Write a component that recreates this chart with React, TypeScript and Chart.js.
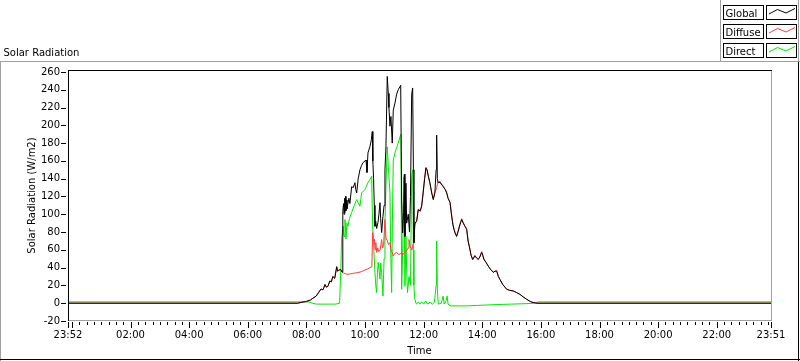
import React, { useEffect, useRef } from 'react';
import { Chart, registerables } from 'chart.js';

Chart.register(...registerables);

// ---------- data ----------
const chartTitle = 'Solar Radiation';
const xAxisTitle = 'Time';
const yAxisTitle = 'Solar Radiation (W/m2)';

// time axis in minutes from midnight (-8 = 23:52 of the previous day)
const xMin = -8;
const xMax = 1431;
const xTickValues = [-8, 120, 240, 360, 480, 600, 720, 840, 960, 1080, 1200, 1320, 1431];
const yTickValues = [-20, 0, 20, 40, 60, 80, 100, 120, 140, 160, 180, 200, 220, 240, 260];

const seriesNames = ['Global', 'Diffuse', 'Direct'];
const seriesColors = ['#000000', '#ff3c3c', '#00e800'];

const globalTimes = [-8, 462, 470, 480, 488, 493, 500, 505, 510, 514, 518, 521, 524, 528, 531, 534, 538, 542, 544, 546, 550, 553, 554.5, 556, 557, 558, 559, 560, 561, 562, 563, 565, 567, 569, 572.6, 576, 579.4, 581, 582.9, 586, 589.6, 593, 595.8, 600, 602, 604, 606, 610, 611.5, 613, 614.8, 616, 617.5, 619, 620.3, 622, 623.8, 626.5, 628.5, 630.6, 632, 634, 636.7, 639, 640.8, 642.8, 645.5, 647.6, 649, 651, 653, 655.7, 657.8, 661.3, 664.7, 668, 671.5, 673, 675, 677, 679, 680.5, 681.7, 683.8, 685.2, 688.5, 691, 693, 695.5, 697.5, 699, 700, 702, 705.7, 709, 713, 716, 719, 722, 724.7, 727, 729.4, 733, 736.4, 739.7, 743, 745.5, 746.6, 748, 749.5, 753.4, 756, 760, 764, 767, 770, 774, 777.3, 780, 782, 785, 787.5, 790.8, 794, 797.8, 801, 804, 808, 811, 814.8, 817, 820.3, 825, 828, 831.8, 835, 838.7, 841, 843.4, 847.5, 852.2, 857, 862.5, 866, 869.4, 873, 876, 882, 890, 896, 903.4, 910, 917, 924, 931, 938, 944, 952, 1431];
const globalValues = [0, 0, 1, 2, 3.5, 5.5, 8, 12, 16, 15, 21, 18, 19, 25, 24, 30, 28, 41, 36, 37, 38, 35, 103, 112, 100, 118, 102, 120, 104, 116, 106, 112, 118, 112, 131, 130, 135.5, 128, 124, 140, 150, 155, 158, 160, 161, 147, 169, 176, 180, 184, 193, 160, 140, 110, 86.5, 92, 84, 90.7, 100, 113, 95, 79.5, 97.8, 110, 150, 176, 255, 236, 220, 199, 210, 180, 217, 225, 235, 240, 243.5, 245, 116, 79, 102, 145, 75, 135, 90, 100, 80, 120, 235, 242, 150, 68, 90, 92, 105, 104, 109, 124, 140, 152, 150, 143, 135, 124, 116.5, 124, 150, 189, 140, 135.5, 136, 134, 131, 128, 124, 118, 113, 98, 88, 83, 78, 75, 81, 88, 94, 90, 87, 83, 70, 60, 54, 49, 53, 51, 49, 52, 57, 54, 49, 46, 41.7, 38, 34.6, 36, 36, 30, 26.8, 21, 15.6, 14.5, 13.7, 12, 10, 7, 4.4, 2, 0.7, 0, 0];

const diffuseTimes = [-8, 462, 470, 480, 488, 493, 500, 505, 510, 514, 518, 521, 524, 528, 531, 534, 538, 542, 544, 546, 550, 553, 556, 560, 565, 570, 575, 580, 585, 590, 595, 600, 605, 610, 614, 615.6, 617, 619, 620.5, 622, 624, 626, 628, 631, 634, 636, 638, 640.8, 643, 645, 648, 651, 653, 655, 657.8, 661, 664.7, 668, 671.5, 675, 677, 679, 681, 684, 686, 688, 690, 692, 694, 696, 698, 700, 702, 705.7, 709, 713, 716, 719, 722, 724.7, 727, 729.4, 733, 736.4, 739.7, 743, 745.5, 746.6, 748, 749.5, 753.4, 756, 760, 764, 767, 770, 774, 777.3, 780, 782, 785, 787.5, 790.8, 794, 797.8, 801, 804, 808, 811, 814.8, 817, 820.3, 825, 828, 831.8, 835, 838.7, 841, 843.4, 847.5, 852.2, 857, 862.5, 866, 869.4, 873, 876, 882, 890, 896, 903.4, 910, 917, 924, 931, 938, 944, 952, 1431];
const diffuseValues = [0, 0, 1, 2, 3.5, 5.5, 8, 12, 16, 15, 21, 18, 19, 25, 24, 30, 28, 41, 36, 37, 38, 35, 34, 33, 32.5, 33, 33.5, 34, 34.5, 35, 36, 37.4, 38.5, 40, 41, 79.5, 70, 72, 60, 68, 57, 62, 58, 60, 71.6, 62, 65, 94, 72, 71.6, 66, 68, 60, 58, 53, 56, 57, 55, 55, 57, 54, 56, 57, 58, 60, 62, 71.6, 64, 62, 60, 66, 68, 88, 93, 106, 103, 110, 125, 141, 153, 150, 144, 134, 125, 117, 125, 128, 130, 133, 136, 137, 134, 132, 128, 125, 118, 114, 99, 88, 84, 78, 76, 82, 88, 95, 91, 87, 84, 70, 61, 54, 50, 54, 51, 50, 52, 58, 54, 50, 46, 42, 38, 35, 36, 37, 30, 27, 21, 16, 14.5, 14, 12, 10, 7, 4.4, 2, 0.7, 0, 0];

const directTimes = [-8, 484, 492, 500, 540, 548, 550.5, 552, 555, 557, 559, 561, 563, 565, 568, 572.6, 578, 582.9, 586, 589.6, 593, 600, 606, 610, 613.6, 615.6, 618, 620.3, 622, 623.8, 625.5, 627, 630.6, 632, 634, 636.7, 639, 640.8, 642.8, 645.5, 647.6, 651, 652.5, 654.5, 656, 657.8, 661.3, 664.7, 668, 671.5, 673.5, 675, 677, 679.5, 681.7, 683.8, 685.5, 687, 690, 693, 695.5, 697.5, 699, 700, 702, 705, 709, 712, 716, 720, 724, 728, 733, 738, 742, 745.5, 746.6, 748, 750, 756, 760, 762, 766, 768, 770, 774, 790, 810, 830, 849, 870, 900, 930, 944, 955, 1431];
const directValues = [1.5, 1.5, 0, -1, -1, 0, 40, 72, 86.5, 75, 94, 72, 90, 86.5, 95, 102, 110, 116.5, 113, 109, 124, 128, 135.5, 139, 142.6, 86.5, 60, 34.6, 20, 12, 35, 46, 27, 45, 34.6, 8, 50, 90, 131, 176, 154, 124, 60, 12, 90, 161, 169, 175, 180, 187, 190, 15.6, 57, 142, 19, 75, 30, 12, 30, 20, 140, 150, 60, 20, 4.4, -1, 1, -1, 1.5, -1, 2.5, -1, 1, -1, 1, 20, 70, 15.6, -1, 0, 8, -1, 3, 8, -1, -3, -3, -3, -2.5, -2, -1.5, -1, -0.5, 0, 1.5, 1.5];

// ---------- helpers ----------
const FONT_FAMILY = '"DejaVu Sans", "Liberation Sans", sans-serif';
const FONT_SIZE = 10;

function toPoints(times: number[], values: number[]) {
  return times.map((t, i) => ({ x: t, y: values[i] }));
}

function fmtTime(v: number) {
  const m = ((Math.round(v) % 1440) + 1440) % 1440;
  const hh = Math.floor(m / 60);
  const mm = m % 60;
  return String(hh).padStart(2, '0') + ':' + String(mm).padStart(2, '0');
}

const labviewPlugin = {
  id: 'labviewDecor',
  beforeDraw(chart: any) {
    const ctx = chart.ctx as CanvasRenderingContext2D;
    const W = chart.width;
    const H = chart.height;
    ctx.save();
    ctx.fillStyle = '#ffffff';
    ctx.fillRect(0, 0, W, H);
    ctx.lineWidth = 1;
    // outer panel
    ctx.strokeStyle = '#a0a0a0';
    ctx.beginPath();
    ctx.moveTo(0, 61.5);
    ctx.lineTo(W, 61.5);
    ctx.moveTo(0.5, 61);
    ctx.lineTo(0.5, H);
    ctx.stroke();
    ctx.strokeStyle = '#000000';
    ctx.beginPath();
    ctx.moveTo(0, H - 1.5);
    ctx.lineTo(W, H - 1.5);
    ctx.moveTo(W - 1.5, 62);
    ctx.lineTo(W - 1.5, H);
    ctx.stroke();
    // legend panel
    ctx.strokeStyle = '#a0a0a0';
    ctx.beginPath();
    ctx.moveTo(720.5, 0);
    ctx.lineTo(720.5, 61);
    ctx.moveTo(798.5, 0);
    ctx.lineTo(798.5, 61);
    ctx.stroke();
    ctx.restore();
  },
  afterDraw(chart: any) {
    const ctx = chart.ctx as CanvasRenderingContext2D;
    const { left, right, top, bottom } = chart.chartArea;
    const xs = chart.scales.x;
    const ys = chart.scales.y;
    ctx.save();
    ctx.lineWidth = 1;
    // plot frame
    ctx.strokeStyle = '#a0a0a0';
    ctx.beginPath();
    ctx.moveTo(left, bottom - 0.5);
    ctx.lineTo(right + 1, bottom - 0.5);
    ctx.moveTo(Math.round(right) + 0.5, top);
    ctx.lineTo(Math.round(right) + 0.5, bottom);
    ctx.stroke();
    ctx.strokeStyle = '#000000';
    ctx.beginPath();
    ctx.moveTo(left, top + 0.5);
    ctx.lineTo(right + 1, top + 0.5);
    ctx.moveTo(left + 0.5, top);
    ctx.lineTo(left + 0.5, bottom);
    ctx.stroke();
    // y ticks
    ctx.beginPath();
    for (const v of yTickValues) {
      const y = Math.round(ys.getPixelForValue(v)) + 0.5;
      ctx.moveTo(61, y);
      ctx.lineTo(66, y);
    }
    ctx.stroke();
    // x ticks (major every 2h, minor every 15 min)
    ctx.beginPath();
    for (let t = 0; t <= xMax; t += 15) {
      const x = Math.round(xs.getPixelForValue(t)) + 0.5;
      const major = t % 120 === 0;
      ctx.moveTo(x, bottom + 1);
      ctx.lineTo(x, bottom + (major ? 7 : 4));
    }
    for (const t of [xMin, xMax]) {
      const x = Math.round(xs.getPixelForValue(t)) + 0.5;
      ctx.moveTo(x, bottom + 1);
      ctx.lineTo(x, bottom + 7);
    }
    ctx.stroke();
    // chart title
    ctx.fillStyle = '#000000';
    ctx.font = `${FONT_SIZE}px ${FONT_FAMILY}`;
    ctx.textBaseline = 'alphabetic';
    ctx.textAlign = 'left';
    ctx.fillText(chartTitle, 3.5, 55.5);
    // legend
    for (let i = 0; i < seriesNames.length; i++) {
      const y0 = 5 + i * 19.2;
      const yb = Math.round(y0) + 0.5;
      ctx.strokeStyle = '#000000';
      ctx.fillStyle = '#ffffff';
      ctx.fillRect(723.5, yb, 40, 14);
      ctx.strokeRect(723.5, yb, 40, 14);
      ctx.fillRect(766.5, yb, 30, 14);
      ctx.strokeRect(766.5, yb, 30, 14);
      ctx.fillStyle = '#000000';
      ctx.fillText(seriesNames[i], 725.5, yb + 11);
      ctx.strokeStyle = seriesColors[i];
      ctx.beginPath();
      ctx.moveTo(769, yb + 8.5);
      ctx.lineTo(777.5, yb + 4);
      ctx.lineTo(786, yb + 7.5);
      ctx.lineTo(795, yb + 3);
      ctx.stroke();
    }
    ctx.restore();
  },
};

export default function App() {
  const canvasRef = useRef<HTMLCanvasElement | null>(null);

  useEffect(() => {
    const prevMargin = document.body.style.margin;
    document.body.style.margin = '0';
    const canvas = canvasRef.current;
    if (!canvas) return;
    const font = { family: FONT_FAMILY, size: FONT_SIZE };
    const chart = new Chart(canvas, {
      type: 'line',
      data: {
        datasets: [
          { label: seriesNames[0], data: toPoints(globalTimes, globalValues), borderColor: seriesColors[0] },
          { label: seriesNames[1], data: toPoints(diffuseTimes, diffuseValues), borderColor: seriesColors[1] },
          { label: seriesNames[2], data: toPoints(directTimes, directValues), borderColor: seriesColors[2] },
        ],
      },
      options: {
        animation: false,
        responsive: false,
        events: [],
        layout: { padding: { left: 0, right: 29, top: 70, bottom: 0 } },
        elements: {
          point: { radius: 0 },
          line: { borderWidth: 1, tension: 0, fill: false },
        },
        plugins: {
          legend: { display: false },
          tooltip: { enabled: false },
          title: { display: false },
        },
        scales: {
          x: {
            type: 'linear',
            min: xMin,
            max: xMax,
            afterFit: (s: any) => { s.height = 40; },
            afterBuildTicks: (s: any) => { s.ticks = xTickValues.map((v) => ({ value: v })); },
            grid: { display: false, drawTicks: false },
            border: { display: false },
            ticks: {
              autoSkip: false,
              maxRotation: 0,
              minRotation: 0,
              padding: 8,
              color: '#000000',
              font,
              callback: (v: any) => fmtTime(Number(v)),
            },
            title: { display: true, text: xAxisTitle, color: '#000000', font, padding: { top: 0, bottom: 4 } },
          },
          y: {
            type: 'linear',
            min: -20,
            max: 262.2,
            afterFit: (s: any) => { s.width = 68; },
            afterBuildTicks: (s: any) => { s.ticks = yTickValues.map((v) => ({ value: v })); },
            grid: { display: false, drawTicks: false },
            border: { display: false },
            ticks: { padding: 8, color: '#000000', font, callback: (v: any) => String(v) },
            title: { display: true, text: yAxisTitle, color: '#000000', font, padding: { top: 26.5, bottom: 0 } },
          },
        },
      },
      plugins: [labviewPlugin],
    } as any);
    return () => {
      chart.destroy();
      document.body.style.margin = prevMargin;
    };
  }, []);

  return (
    <div style={{ position: 'absolute', left: 0, top: 0, width: 800, height: 361 }}>
      <canvas ref={canvasRef} width={800} height={361} style={{ display: 'block' }} />
    </div>
  );
}
